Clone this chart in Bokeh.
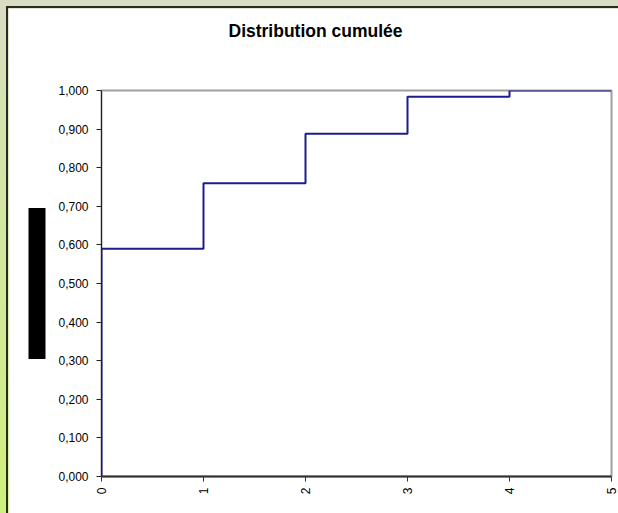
import numpy as np
from bokeh.plotting import figure
from bokeh.models import Range1d, FixedTicker, Title
from bokeh.embed import file_html
from bokeh.resources import INLINE

# data
x_vals = [0, 1, 2, 3, 4, 5]
cumulative = [0.590, 0.760, 0.888, 0.984, 1.000, 1.000]
y_ticks = [0.0, 0.1, 0.2, 0.3, 0.4, 0.5, 0.6, 0.7, 0.8, 0.9, 1.0]
y_tick_labels = ["0,000", "0,100", "0,200", "0,300", "0,400", "0,500",
                 "0,600", "0,700", "0,800", "0,900", "1,000"]
title_text = "Distribution cumulée"

FONT = "Liberation Sans"

p = figure(width=610, height=505, output_backend="svg", toolbar_location=None,
           x_range=Range1d(0, 5), y_range=Range1d(0, 1),
           min_border_left=93, min_border_right=7, min_border_top=82,
           min_border_bottom=37)
p.styles = {"outline": "2px solid #2a2a2a"}
p.background_fill_color = "white"
p.border_fill_color = "white"
p.outline_line_color = "#a0a0a0"
p.outline_line_width = 2
p.xgrid.visible = False
p.ygrid.visible = False

# real title (outermost), spacer panel between it and the frame
p.title = Title(text=title_text, align="left", offset=127, text_font=FONT,
                text_font_size="17.5px", text_font_style="bold",
                text_color="black", standoff=0)
p.add_layout(Title(text="\u00a0", text_font=FONT, text_font_size="10px",
                   standoff=37), "above")

# redacted (blacked-out) y-axis title block
p.add_layout(Title(text="\u00a0" * 34, align="center", text_font=FONT,
                   text_font_size="16px", text_color="black",
                   background_fill_color="black", background_fill_alpha=1.0,
                   standoff=20), "left")

# step line from (0,0)
sx = [x_vals[0]] + x_vals
sy = [0.0] + cumulative
p.step(sx, sy, mode="after", line_color="#1c1c8c", line_width=2)

# y axis
p.yaxis.ticker = FixedTicker(ticks=y_ticks)
p.yaxis.major_label_overrides = {v: l for v, l in zip(y_ticks, y_tick_labels)}
p.yaxis.minor_tick_line_color = None
p.yaxis.major_tick_in = 0
p.yaxis.major_tick_out = 5
p.yaxis.axis_line_color = "#222222"
p.yaxis.major_tick_line_color = "#222222"
p.yaxis.major_label_text_font = FONT
p.yaxis.major_label_text_font_size = "12px"
p.yaxis.major_label_text_color = "black"
p.yaxis.major_label_standoff = 8

# x axis
p.xaxis.ticker = FixedTicker(ticks=x_vals)
p.xaxis.minor_tick_line_color = None
p.xaxis.major_tick_in = 0
p.xaxis.major_tick_out = 5
p.xaxis.axis_line_color = "#333333"
p.xaxis.axis_line_width = 2
p.xaxis.major_tick_line_color = "#333333"
p.xaxis.major_label_orientation = np.pi / 2
p.xaxis.major_label_text_font = FONT
p.xaxis.major_label_text_font_size = "12px"
p.xaxis.major_label_text_color = "black"
p.xaxis.major_label_standoff = 6

html = file_html(p, INLINE)
css = ("<style>html, body { margin: 0 !important; } "
       "body { padding: 8px 0 0 8px !important; "
       "background: linear-gradient(to bottom, #dadcc4 0%, #d6e2b0 20%, #cdf07e 100%) !important; }"
       "</style>")
html = html.replace("</head>", css + "</head>", 1)
open("out.html", "w").write(html)
